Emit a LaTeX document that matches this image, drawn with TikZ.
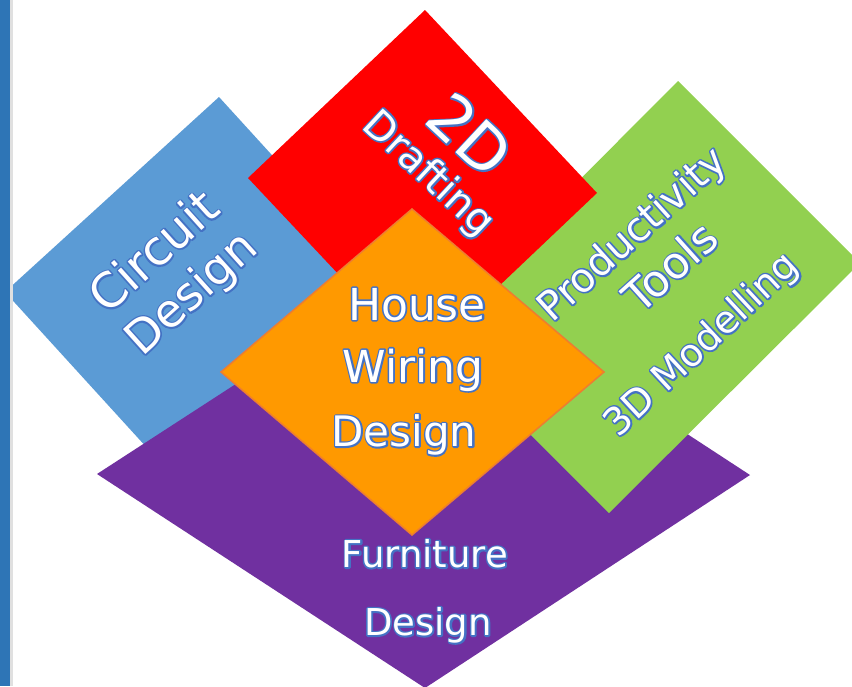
\documentclass[tikz,border=0pt]{standalone}
\usepackage{fontspec}
\setmainfont{DejaVu Sans}
\definecolor{cblue}{HTML}{5B9BD5}
\definecolor{cred}{HTML}{FF0000}
\definecolor{cgreen}{HTML}{92D050}
\definecolor{cpurple}{HTML}{7030A0}
\definecolor{corange}{HTML}{FF9900}
\definecolor{corangeline}{HTML}{ED7D31}
\definecolor{cstrip}{HTML}{2E75B6}
% white text with a blue outline: a stroked copy under the filled text
\newcommand{\ol}[1]{\rlap{\special{pdf:literal 0.267 0.447 0.769 RG 3.2 w 1 j 1 Tr}#1\special{pdf:literal 0 Tr}}#1}
\begin{document}
\begin{tikzpicture}[x=1pt,y=-1pt,
  lbl/.style={text=white, inner sep=0pt, text depth=0pt, anchor=center}]
\useasboundingbox (0,0) rectangle (852,686);
\fill[white] (0,0) rectangle (852,686);
% shapes (back to front)
\coordinate (bT) at (219,97);  \coordinate (bL) at (5,292);
\coordinate (bB) at (200,506); \coordinate (bR) at (414,311);
\fill[cblue] (bT) -- (bR) -- (bB) -- (bL) -- cycle;
\coordinate (pL) at (97,474);  \coordinate (pT) at (424,262);
\coordinate (pR) at (750,475); \coordinate (pB) at (425,688);
\fill[cpurple] (pL) -- (pT) -- (pR) -- (pB) -- cycle;
\coordinate (gT) at (678,81);  \coordinate (gR) at (860,263);
\coordinate (gB) at (609,513); \coordinate (gL) at (428,332);
\fill[cgreen] (gT) -- (gR) -- (gB) -- (gL) -- cycle;
\coordinate (rT) at (425,10);  \coordinate (rL) at (248,178);
\coordinate (rR) at (597,193); \coordinate (rB) at (420,361);
\fill[cred] (rT) -- (rR) -- (rB) -- (rL) -- cycle;
\coordinate (oT) at (412,209); \coordinate (oR) at (604,372);
\coordinate (oB) at (412,535); \coordinate (oL) at (221,372);
\filldraw[fill=corange, draw=corangeline, line width=1.5pt, line join=miter]
  (oT) -- (oR) -- (oB) -- (oL) -- cycle;
% left strip
\fill[black!12] (10,0) rectangle (13,686);
\fill[cstrip] (0,0) rectangle (10,686);
% texts
\node[lbl, rotate=-43, text height=45pt, font=\fontsize{62}{62}\selectfont] (t2d) at (470,135) {\ol{2D}};
\node[lbl, rotate=-43, text height=29pt, font=\fontsize{40}{40}\selectfont] (tdraft) at (430,172) {\ol{Drafting}};
\node[lbl, rotate=42, text height=35pt, font=\fontsize{48}{48}\selectfont] (tcirc) at (153,251) {\ol{Circuit}};
\node[lbl, rotate=42, text height=33pt, font=\fontsize{46}{46}\selectfont] (tcdes) at (190,292) {\ol{Design}};
\node[lbl, rotate=42, text height=29pt, font=\fontsize{40}{40}\selectfont] (tprod) at (631,233) {\ol{Productivity}};
\node[lbl, rotate=42, text height=32pt, font=\fontsize{44}{44}\selectfont] (ttools) at (670,267) {\ol{Tools}};
\node[lbl, rotate=43, text height=28pt, font=\fontsize{38}{38}\selectfont] (t3d) at (700,343) {\ol{3D Modelling}};
\node[lbl, text height=32pt, font=\fontsize{44}{44}\selectfont] (thouse) at (417,304) {\ol{House}};
\node[lbl, text height=32pt, font=\fontsize{44}{44}\selectfont] (twiring) at (413,366) {\ol{Wiring}};
\node[lbl, text height=31pt, font=\fontsize{42}{42}\selectfont] (thdes) at (404,431) {\ol{Design}};
\node[lbl, text height=27pt, font=\fontsize{37}{37}\selectfont] (tfurn) at (425,554) {\ol{Furniture}};
\node[lbl, text height=27pt, font=\fontsize{37}{37}\selectfont] (tfdes) at (428,622) {\ol{Design}};
\end{tikzpicture}
\end{document}
